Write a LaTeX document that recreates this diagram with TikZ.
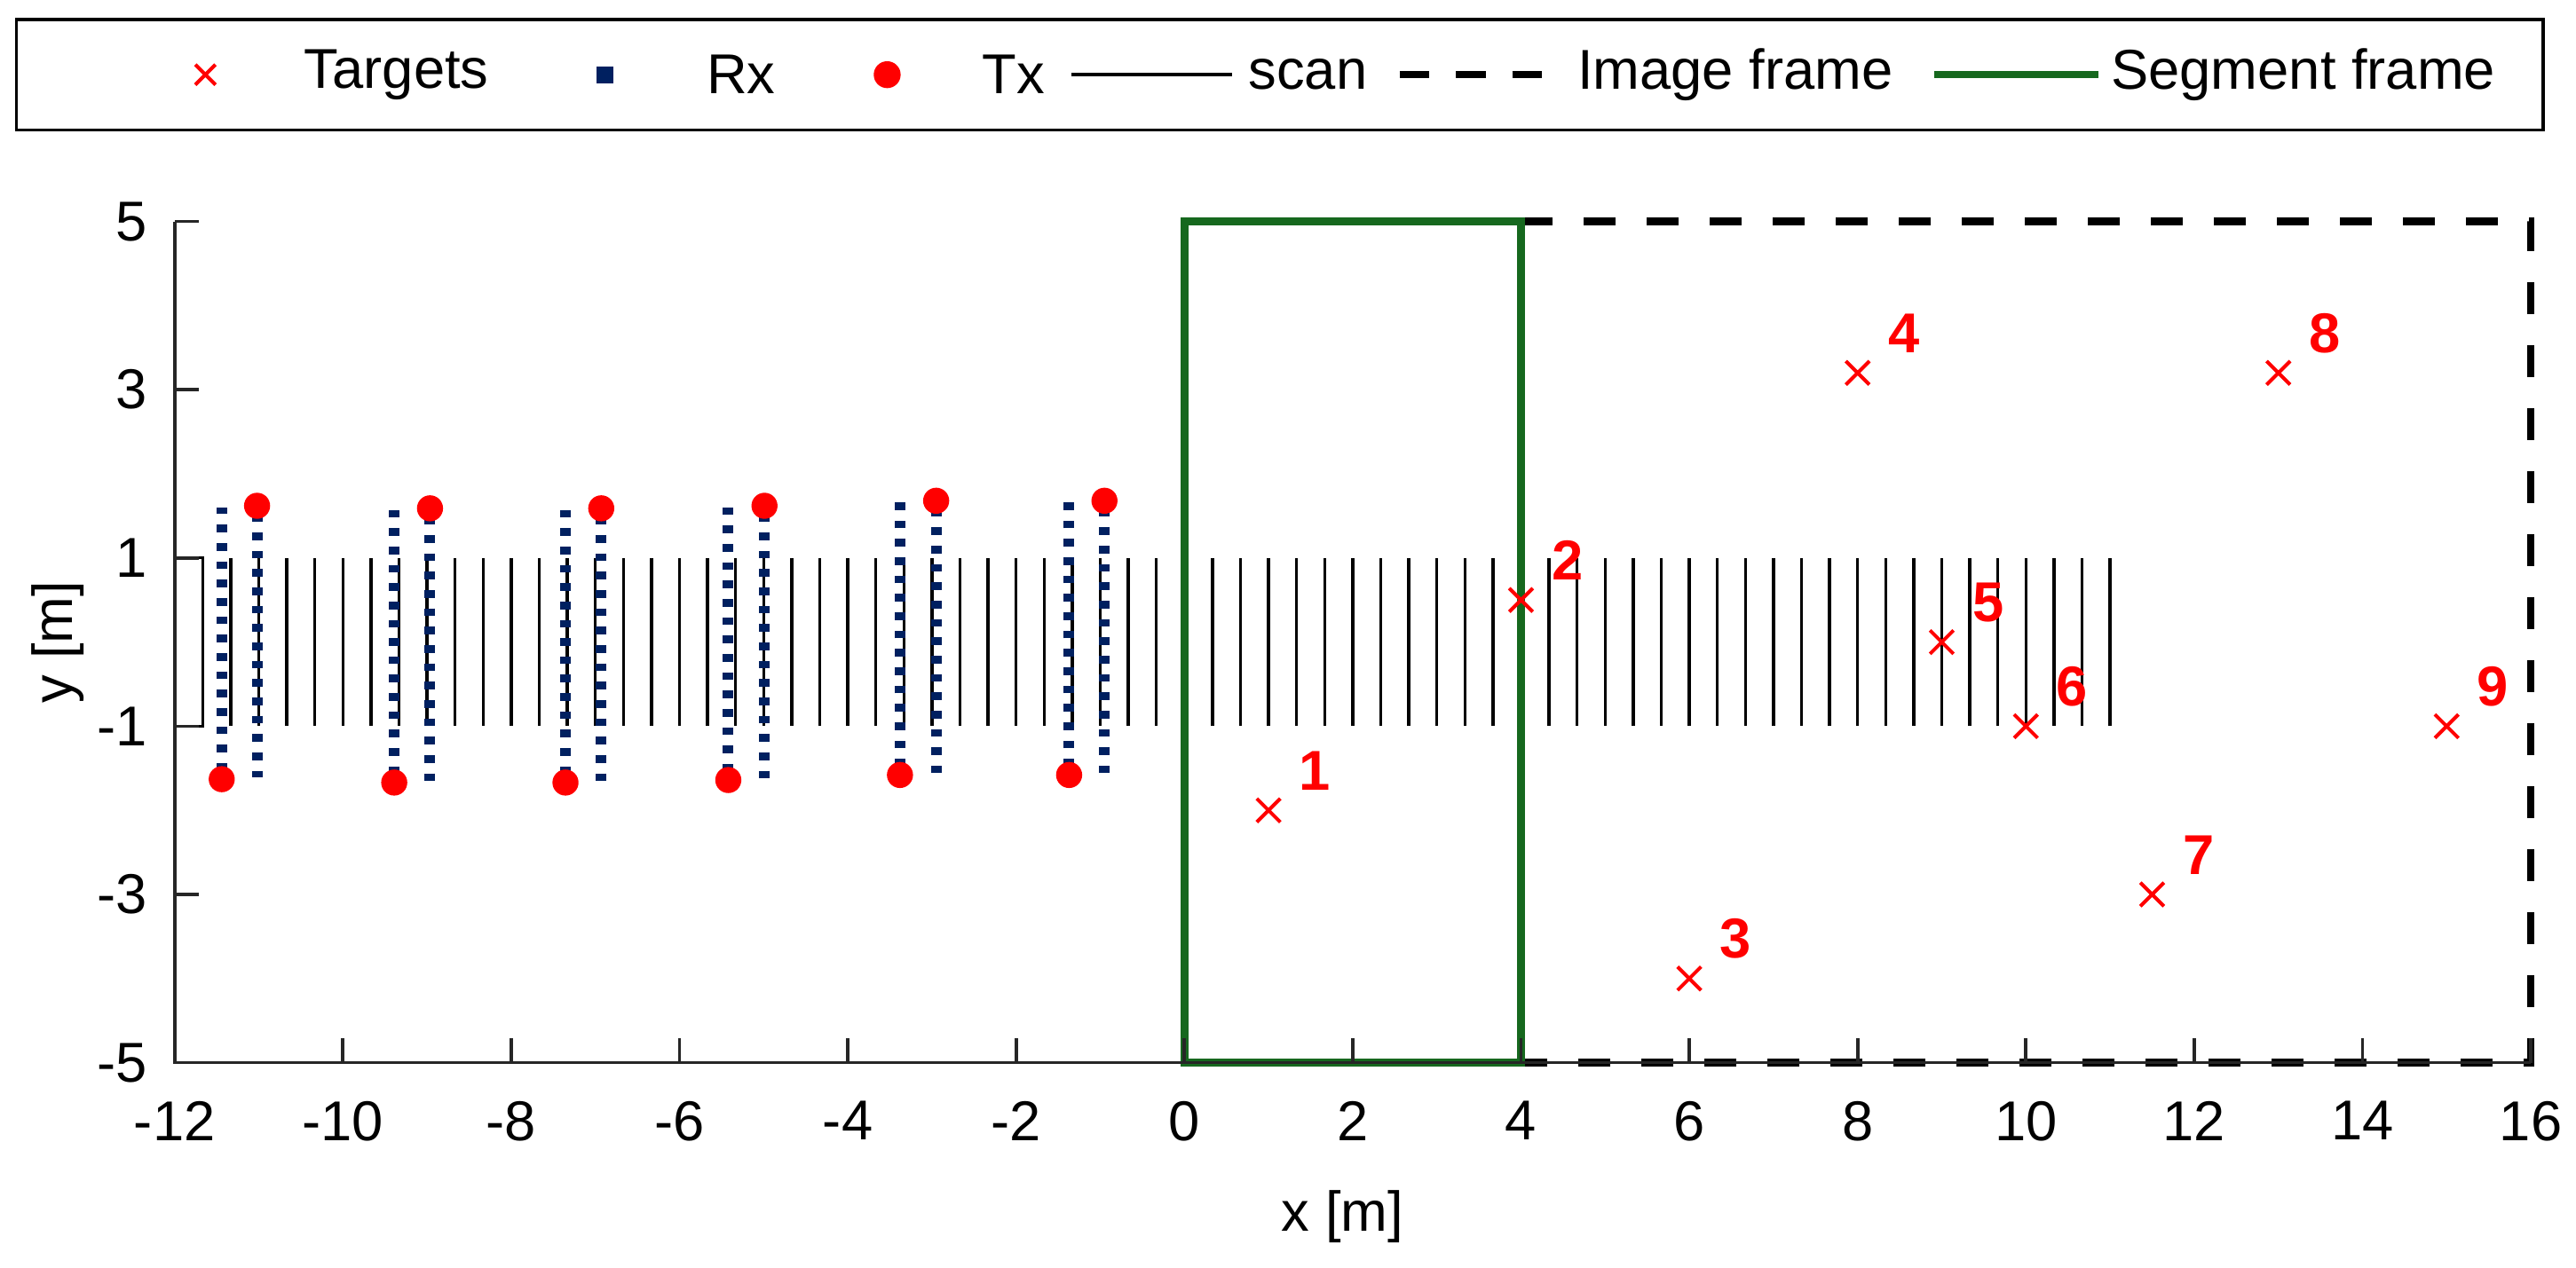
\documentclass[tikz,border=0pt]{standalone}
\usepackage{fontspec}
\setmainfont{Liberation Sans}
\definecolor{rxblue}{RGB}{0,32,96}
\definecolor{segg}{RGB}{22,104,30}
\begin{document}
\begin{tikzpicture}[x=1cm,y=1cm,
  lbl/.style={font=\fontsize{19}{22}\selectfont, inner sep=1pt},
  tnum/.style={font=\fontsize{19}{22}\selectfont\bfseries, text=red, inner sep=0pt},
  scanl/.style={line width=1pt, black},
  rxl/.style={rxblue, line width=3.6pt, dash pattern=on 2.6pt off 3.6pt},
  txdot/.style={fill=red, draw=none},
  tgt/.style={red, line width=1.2pt},
  axisl/.style={line width=1.1pt, black!85},
  segframe/.style={segg, line width=2.6pt},
  imgframe/.style={black, line width=2.6pt, dash pattern=on 10.8pt off 10.5pt}]
\useasboundingbox (-14.075,-7.436) rectangle (16.537,7.633);
% legend
\draw[line width=1pt] (-13.88,6.09) rectangle (16.147,7.40);
\draw[tgt] (-11.634,6.745) ++(-0.12,-0.12) -- ++(0.24,0.24) ++(-0.24,0) -- ++(0.24,-0.24);
\node[lbl,anchor=west] (lt) at (-10.50,6.745) {Targets};
\fill[rxblue] (-6.89,6.745) ++(-0.1,-0.1) rectangle ++(0.2,0.2);
\node[lbl,anchor=west] (lr) at (-5.72,6.745) {Rx};
\fill[txdot] (-3.532,6.745) circle (0.16);
\node[lbl,anchor=west] (ltx) at (-2.44,6.745) {Tx};
\draw[scanl] (-1.345,6.745) -- (0.569,6.745);
\node[lbl,anchor=west] (ls) at (0.72,6.745) {scan};
\draw[black,line width=2.6pt,dash pattern=on 10pt off 9pt] (2.56,6.745) -- (4.376,6.745);
\node[lbl,anchor=west] (li) at (4.63,6.745) {Image frame};
\draw[segframe] (8.906,6.745) -- (10.859,6.745);
\node[lbl,anchor=west] (lg) at (10.97,6.745) {Segment frame};
% scan
\draw[scanl] (-12,-1) rectangle (-11.667,1);
\foreach \k in {1,...,69} \draw[scanl] ({-12+\k/3},-1) -- ({-12+\k/3},1);
% Rx / Tx
\foreach \xl/\yb/\xr/\yt in {-11.44/-1.63/-11.02/1.62, -9.39/-1.67/-8.965/1.59, -7.355/-1.67/-6.93/1.59, -5.42/-1.64/-4.99/1.62, -3.38/-1.58/-2.95/1.68, -1.37/-1.58/-0.95/1.68}{
  \draw[rxl] (\xl,\yb+0.1) -- (\xl,\yt-0.02);
  \draw[rxl] (\xr,\yt-0.1) -- (\xr,\yb+0.02);
  \fill[txdot] (\xl,\yb) circle (0.155);
  \fill[txdot] (\xr,\yt) circle (0.155);
}
% frames
\draw[imgframe] (4,5) -- (16,5) -- (16,-5) -- (4,-5);
\draw[segframe] (0,-5) rectangle (4,5);
% axes
\draw[axisl] (-12,5) -- (-12,-5) -- (16,-5);
\foreach \x in {-12,-10,...,16}{
  \draw[axisl] (\x,-5) -- (\x,-4.71);
  \node[lbl,anchor=north] (xt\x) at (\x,-5.42) {\x};
}
\foreach \y in {-5,-3,...,5}{
  \draw[axisl] (-12,\y) -- (-11.71,\y);
  \node[lbl,anchor=east] (yt\y) at (-12.28,\y) {\y};
}
\node[lbl] (xlab) at (1.88,-6.83) {x [m]};
\node[lbl,rotate=90] (ylab) at (-13.39,0) {y [m]};
% targets
\foreach \n/\tx/\ty in {1/1/-2, 2/4/0.5, 3/6/-4, 4/8/3.2, 5/9/0, 6/10/-1, 7/11.5/-3, 8/13/3.2, 9/15/-1}{
  \draw[tgt] (\tx,\ty) ++(-0.14,-0.14) -- ++(0.28,0.28) ++(-0.28,0) -- ++(0.28,-0.28);
  \node[tnum] (t\n) at (\tx+0.55,\ty+0.47) {\n};
}
\end{tikzpicture}
\end{document}
